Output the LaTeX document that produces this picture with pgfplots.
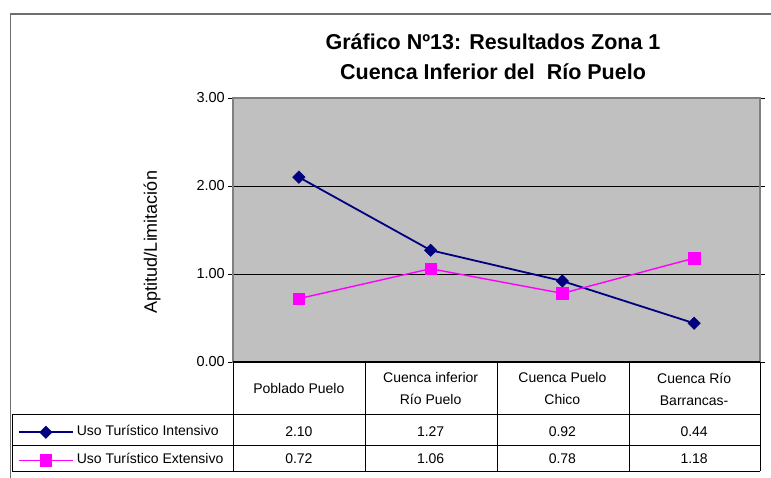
\documentclass[border=0pt]{standalone}
\usepackage{fontspec}
\setmainfont{Liberation Sans}
\usepackage{pgfplots}
\pgfplotsset{compat=1.18}
\usepackage{pgfplotstable}
\definecolor{plotgray}{RGB}{192,192,192}
\definecolor{navyS}{RGB}{0,0,128}
\definecolor{magS}{RGB}{255,0,255}
\definecolor{framegray}{RGB}{110,110,110}
\definecolor{bordergray}{RGB}{128,128,128}

\pgfplotstableread{
x int ext
0 2.10 0.72
1 1.27 1.06
2 0.92 0.78
3 0.44 1.18
}\datos

\begin{document}
\begin{tikzpicture}[x=1pt,y=1pt]
\path[use as bounding box] (0,0) rectangle (771,478);
\draw[framegray, line width=1.5pt] (10.5,0) -- (10.5,464) -- (771,464);
\begin{axis}[
  at={(233pt,116pt)}, anchor=south west,
  width=527pt, height=264pt, scale only axis,
  xmin=-0.5, xmax=3.5, ymin=0, ymax=3,
  clip=false,
  /pgf/number format/assume math mode=true,
  axis background/.style={fill=plotgray},
  axis line style={draw=bordergray, line width=1.6pt},
  ytick={0,1,2,3},
  yticklabel={\pgfmathprintnumber[fixed,fixed zerofill,precision=2]{\tick}},
  yticklabel style={font=\fontsize{14.5}{16}\selectfont, inner sep=0pt, anchor=east, xshift=-3pt},
  tick align=outside, major tick length=5pt,
  ytick style={black, line width=0.8pt},
  ymajorgrids, grid style={black, line width=0.9pt},
  xtick={0,1,2,3},
  xticklabels={{Poblado Puelo},{Cuenca inferior\\Río Puelo},{Cuenca Puelo\\Chico},{Cuenca Río\\Barrancas-}},
  xticklabel style={font=\fontsize{14}{22}\selectfont, align=center, anchor=center, yshift=-22pt},
  x tick style={draw=none},
  ylabel={Aptitud/Limitación},
  ylabel style={at={(axis description cs:-0.1537,0.4545)}, anchor=center, rotate=0, font=\fontsize{18}{20}\selectfont},
  title={Gráfico Nº13: Resultados Zona 1\\Cuenca Inferior del\ \ Río Puelo},
  title style={at={(axis description cs:0.4934,1.1325)}, anchor=center, align=center, font=\bfseries\fontsize{21.5}{30}\selectfont},
  legend image code/.code={\draw[mark repeat=2,mark phase=2,#1] plot coordinates {(0pt,0pt) (27pt,0pt) (54pt,0pt)};},
  legend style={at={(axis description cs:-0.408,-0.2424)}, anchor=north west, draw=none, fill=none, inner sep=0pt, outer sep=0pt, row sep=16pt, column sep=3pt, font=\fontsize{14}{16}\selectfont, nodes={inner sep=0pt, text height=9pt, text depth=3pt}},
  legend cell align=left,
]
\addplot[navyS, line width=1.8pt, mark=square*, mark size=4.4pt, mark options={solid, rotate=45, fill=navyS, line width=0.5pt}] table[x=x, y=int] {\datos};
\addlegendentry{Uso Turístico Intensivo}
\addplot[magS, line width=1.4pt, mark=square*, mark size=5.8pt, mark options={solid, fill=magS, line width=0.5pt}] table[x=x, y=ext] {\datos};
\addlegendentry{Uso Turístico Extensivo}
\addplot[draw=none, mark=none, forget plot, point meta=explicit,
  nodes near coords={\pgfmathprintnumber[fixed,fixed zerofill,precision=2]{\pgfplotspointmeta}},
  every node near coord/.style={anchor=center, black, font=\fontsize{14}{16}\selectfont}]
  table[x=x, y expr=-0.795, meta=int] {\datos};
\addplot[draw=none, mark=none, forget plot, point meta=explicit,
  nodes near coords={\pgfmathprintnumber[fixed,fixed zerofill,precision=2]{\pgfplotspointmeta}},
  every node near coord/.style={anchor=center, black, font=\fontsize{14}{16}\selectfont}]
  table[x=x, y expr=-1.102, meta=ext] {\datos};
\end{axis}
\draw[black, line width=1.8pt] (233,116) -- (760,116);
\begin{scope}[black, line width=0.8pt]
\foreach \xx in {233,365,497,629,760} {\draw (\xx,116) -- (\xx,7);}
\draw (12,64) -- (760,64);
\draw (12,33) -- (760,33);
\draw (12,7) -- (760,7);
\draw (12,64) -- (12,7);
\end{scope}
\end{tikzpicture}
\end{document}
